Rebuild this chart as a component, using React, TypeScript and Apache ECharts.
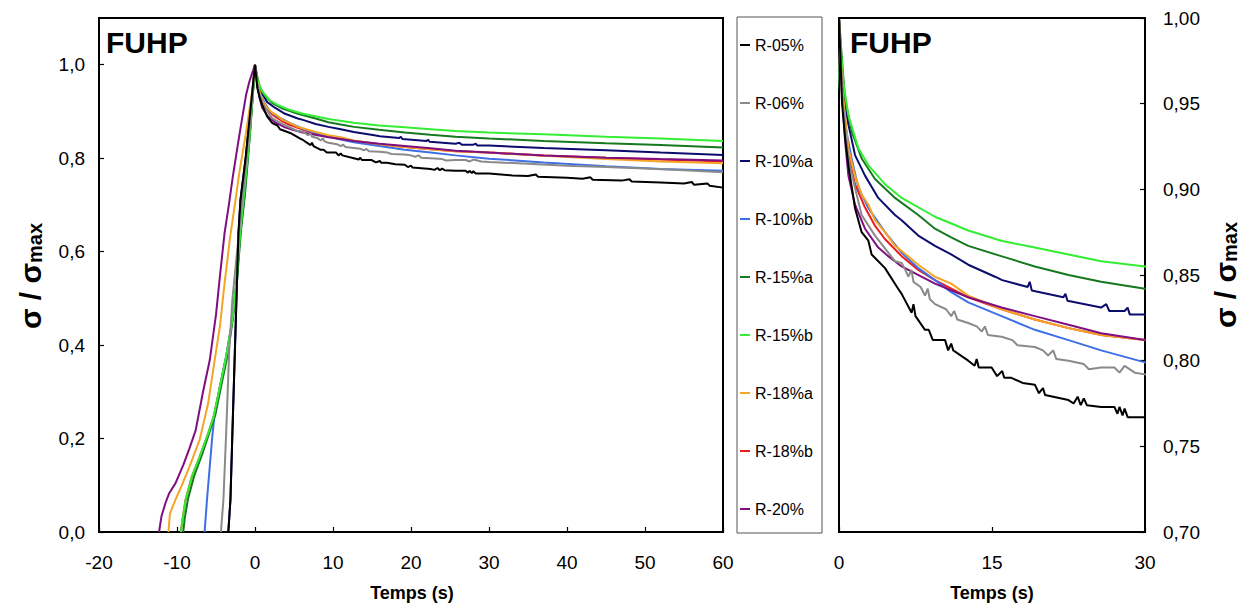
import React, { useEffect, useRef } from 'react';
import * as echarts from 'echarts';

// ---- Data (time in s, normalised stress sigma/sigma_max) ----
const seriesNames = ['R-05%', 'R-06%', 'R-10%a', 'R-10%b', 'R-15%a', 'R-15%b', 'R-18%a', 'R-18%b', 'R-20%'];
const seriesColors = ['#000000', '#8a8a8a', '#0c0c6e', '#3d6fe6', '#16791f', '#33ee33', '#f5a524', '#ee1c1c', '#7f0f80'];
// drawing order (later = on top)
const drawOrder = ['R-10%a', 'R-18%b', 'R-10%b', 'R-15%a', 'R-15%b', 'R-18%a', 'R-20%', 'R-06%', 'R-05%'];

const leftXRange = [-20, 60, 10];
const leftYRange = [0, 1.1, 0.2];
const rightXRange = [0, 30, 15];
const rightYRange = [0.7, 1.0, 0.05];

const r05 = [
  [-3.42, 0], [-3.15, 0.069], [-2.9, 0.211], [-2.64, 0.354], [-2.38, 0.497], [-2.12, 0.64], [-1.86, 0.711], [-1.2, 0.8], [-0.6, 0.9], [0, 1],
  [0.3, 0.95], [0.6, 0.93], [0.92, 0.914], [1.57, 0.889], [2.22, 0.875], [2.88, 0.87], [3.2, 0.862], [4.51, 0.854], [5.8, 0.842], [6.14, 0.839],
  [7.12, 0.828], [7.3, 0.833], [7.5, 0.826], [8.43, 0.818], [8.8, 0.818], [9.2, 0.812], [10.4, 0.812], [10.7, 0.806], [11, 0.81], [11.2, 0.806],
  [12.67, 0.8], [13.3, 0.797], [13.5, 0.801], [13.7, 0.796], [14.96, 0.796], [15.5, 0.791], [16, 0.794], [16.2, 0.79], [16.9, 0.79], [18, 0.787],
  [19.2, 0.786], [19.6, 0.781], [20, 0.784], [20.2, 0.78], [22.5, 0.777], [23, 0.775], [23.4, 0.779], [23.7, 0.774], [24, 0.778], [24.3, 0.774],
  [25.7, 0.773], [27, 0.773], [27.3, 0.769], [27.5, 0.773], [27.8, 0.768], [28, 0.772], [28.3, 0.767], [30, 0.767], [33, 0.763], [35, 0.762],
  [36, 0.765], [36.3, 0.76], [40, 0.758], [42, 0.756], [43, 0.759], [43.3, 0.754], [47, 0.752], [48, 0.755], [48.3, 0.75], [52, 0.748],
  [55, 0.746], [56, 0.749], [56.3, 0.743], [58, 0.746], [58.3, 0.741], [60, 0.737],
];
const r06 = [
  [-4.37, 0], [-4.05, 0.069], [-3.7, 0.211], [-3.3, 0.39], [-2.9, 0.497], [-2.3, 0.6], [-1.8, 0.68], [-1.2, 0.78], [-0.6, 0.88], [0, 1],
  [0.3, 0.955], [0.92, 0.918], [1.57, 0.901], [2.22, 0.885], [3.53, 0.873], [4.83, 0.863], [5.5, 0.858], [6.14, 0.857], [6.5, 0.853], [6.8, 0.849],
  [7.1, 0.853], [7.3, 0.846], [8.0, 0.843], [8.43, 0.838], [8.7, 0.842], [8.9, 0.836], [9.41, 0.833], [10.5, 0.83], [11, 0.826], [11.3, 0.829],
  [11.6, 0.824], [12.67, 0.822], [13.5, 0.82], [14, 0.817], [14.3, 0.82], [14.6, 0.815], [15.94, 0.814], [17, 0.812], [17.5, 0.809], [19.2, 0.808],
  [20, 0.806], [20.5, 0.803], [21, 0.806], [21.3, 0.801], [22.5, 0.8], [24, 0.798], [24.5, 0.795], [25.7, 0.796], [27, 0.796], [27.5, 0.793],
  [28, 0.797], [29, 0.793], [30, 0.792], [35, 0.788], [40, 0.784], [45, 0.781], [50, 0.778], [55, 0.774], [60, 0.77],
];
const r10a = [
  [-3.42, 0], [-3.15, 0.069], [-2.9, 0.211], [-2.64, 0.354], [-2.38, 0.497], [-2.12, 0.64], [-1.86, 0.711], [-1.2, 0.8], [-0.6, 0.9], [0, 1],
  [0.3, 0.965], [0.59, 0.95], [0.92, 0.938], [1.57, 0.92], [2.55, 0.908], [3.85, 0.895], [5.49, 0.885], [6.14, 0.882], [7.77, 0.873], [9.41, 0.867],
  [11, 0.862], [12.67, 0.856], [15.3, 0.849], [16, 0.847], [18.5, 0.843], [18.7, 0.846], [18.9, 0.841], [22, 0.837], [22.2, 0.839], [22.4, 0.835],
  [25.7, 0.831], [26.2, 0.833], [26.5, 0.829], [28, 0.829], [28.3, 0.831], [28.5, 0.827], [30, 0.827], [37, 0.822], [45, 0.817], [52, 0.812], [60, 0.807],
];
const r10b = [
  [-6.46, 0], [-6.15, 0.07], [-5.8, 0.14], [-5.5, 0.2], [-5.2, 0.25], [-4.45, 0.315], [-3.65, 0.38], [-2.85, 0.46], [-2.35, 0.54], [-1.85, 0.645], [-1.35, 0.72], [-0.68, 0.85], [0, 1],
  [0.3, 0.96], [0.59, 0.938], [1.24, 0.918], [1.9, 0.901], [2.88, 0.889], [4.51, 0.875], [6.14, 0.863], [7.77, 0.854], [9.41, 0.847], [11, 0.84],
  [12.67, 0.834], [15.94, 0.826], [19.2, 0.818], [22.5, 0.812], [25.7, 0.806], [30, 0.799], [37, 0.791], [45, 0.783], [52, 0.777], [60, 0.773],
];
const r15a = [
  [-9.2, 0], [-9.0, 0.03], [-8.6, 0.07], [-7.8, 0.12], [-6.8, 0.165], [-5.8, 0.215], [-5.1, 0.25], [-4.3, 0.315], [-3.5, 0.38], [-2.8, 0.46], [-2.3, 0.54], [-1.8, 0.645], [-1.3, 0.72], [-0.65, 0.85], [0, 1],
  [0.3, 0.975], [0.59, 0.953], [1.24, 0.934], [2.22, 0.918], [3.53, 0.906], [5.49, 0.895], [7.77, 0.885], [9.41, 0.877], [11, 0.872], [12.67, 0.867],
  [15.9, 0.861], [19.2, 0.855], [22.5, 0.85], [25.7, 0.846], [30, 0.842], [37, 0.837], [45, 0.832], [52, 0.828], [60, 0.823],
];
const r15b = [
  [-9.5, 0], [-9.3, 0.026], [-8.9, 0.069], [-8.1, 0.118], [-7.1, 0.161], [-6.0, 0.211], [-5.3, 0.247], [-4.5, 0.311], [-3.7, 0.375], [-2.9, 0.454], [-2.4, 0.533], [-1.9, 0.64], [-1.36, 0.73], [-0.7, 0.845], [0, 1],
  [0.1, 0.988], [0.42, 0.963], [0.92, 0.943], [1.9, 0.924], [2.88, 0.914], [4.51, 0.903], [6.14, 0.895], [9.41, 0.884], [12.67, 0.876], [15.9, 0.87],
  [19.2, 0.866], [22.5, 0.862], [25.7, 0.858], [30, 0.855], [37, 0.851], [45, 0.846], [52, 0.842], [60, 0.837],
];
const r18a = [
  [-11.1, 0], [-10.9, 0.04], [-10.2, 0.069], [-9.45, 0.097], [-8.4, 0.14], [-7.1, 0.197], [-6.0, 0.276], [-5.3, 0.354], [-4.5, 0.44], [-3.95, 0.525], [-3.2, 0.63], [-2.5, 0.71], [-2.0, 0.77], [-1.1, 0.86], [-0.3, 0.95], [0, 1],
  [0.3, 0.96], [0.92, 0.924], [1.57, 0.908], [2.22, 0.897], [2.88, 0.891], [3.53, 0.882], [4.51, 0.875], [5.49, 0.867], [6.14, 0.864], [7.77, 0.856],
  [9.41, 0.849], [11, 0.845], [12.67, 0.838], [15.94, 0.83], [19.2, 0.824], [22.5, 0.819], [25.7, 0.815], [30, 0.812], [37, 0.805], [45, 0.798], [52, 0.793], [60, 0.789],
];
const r18b = [
  [-9.5, 0], [-9.3, 0.026], [-8.9, 0.069], [-8.1, 0.118], [-7.1, 0.161], [-6.0, 0.211], [-5.3, 0.247], [-4.5, 0.311], [-3.7, 0.375], [-2.9, 0.454], [-2.4, 0.533], [-1.9, 0.64], [-1.36, 0.73], [-0.7, 0.845], [0, 1],
  [0.3, 0.96], [0.92, 0.92], [1.57, 0.903], [2.5, 0.89], [3.5, 0.879], [4.5, 0.871], [6.14, 0.861], [7.77, 0.853], [9.41, 0.847], [12.67, 0.837],
  [15.94, 0.83], [19.2, 0.824], [22.5, 0.819], [25.7, 0.815], [30, 0.812], [37, 0.806], [45, 0.801], [52, 0.797], [60, 0.793],
];
const r20 = [
  [-12.3, 0], [-12.0, 0.033], [-11.5, 0.061], [-11.0, 0.083], [-10.2, 0.104], [-9.2, 0.143], [-8.4, 0.179], [-7.6, 0.218], [-6.7, 0.297], [-5.8, 0.368],
  [-5.0, 0.465], [-4.5, 0.547], [-3.9, 0.64], [-3.35, 0.7], [-2.85, 0.76], [-2.0, 0.85], [-1.14, 0.936], [-0.72, 0.964], [0, 1],
  [0.3, 0.955], [0.6, 0.928], [0.92, 0.908], [1.57, 0.891], [2.55, 0.877], [3.85, 0.866], [4.83, 0.861], [6.14, 0.855], [9.41, 0.845], [12.67, 0.837],
  [15.94, 0.831], [19.2, 0.826], [22.5, 0.821], [25.7, 0.816], [30, 0.812], [37, 0.806], [45, 0.801], [52, 0.798], [60, 0.795],
];
const seriesData: Record<string, number[][]> = {
  'R-05%': r05, 'R-06%': r06, 'R-10%a': r10a, 'R-10%b': r10b, 'R-15%a': r15a,
  'R-15%b': r15b, 'R-18%a': r18a, 'R-18%b': r18b, 'R-20%': r20,
};

const FONT = 'Arial, "Liberation Sans", sans-serif';

export default function App() {
  const ref = useRef<HTMLDivElement>(null);
  useEffect(() => {
    if (!ref.current) return;
    const chart = echarts.init(ref.current, null, { renderer: 'svg' });
    const colorOf = (n: string) => seriesColors[seriesNames.indexOf(n)];
    const commaFmt = (d: number) => (v: number) => v.toFixed(d).replace('.', ',');
    const axisLineStyle = { onZero: false, lineStyle: { color: '#000', width: 2 } };
    const tickStyle = { inside: true, length: 5, lineStyle: { color: '#000', width: 1.2 } };
    const labelStyle = { color: '#000', fontSize: 19, fontFamily: FONT };

    const series: any[] = [];
    [0, 1].forEach((idx) => {
      drawOrder.forEach((name) => {
        series.push({
          type: 'line',
          name,
          xAxisIndex: idx,
          yAxisIndex: idx,
          data: seriesData[name],
          showSymbol: false,
          symbol: 'none',
          clip: true,
          lineStyle: { color: colorOf(name), width: 2 },
          itemStyle: { color: colorOf(name) },
          emphasis: { disabled: true },
        });
      });
    });

    const option: any = {
      animation: false,
      backgroundColor: '#fff',
      grid: [
        { left: 99, top: 18, width: 624, height: 514, show: true, borderColor: '#000', borderWidth: 2, backgroundColor: 'transparent' },
        { left: 839, top: 18, width: 306, height: 514, show: true, borderColor: '#000', borderWidth: 2, backgroundColor: 'transparent' },
      ],
      xAxis: [
        {
          type: 'value', gridIndex: 0, min: leftXRange[0], max: leftXRange[1], interval: leftXRange[2],
          axisLine: axisLineStyle, axisTick: tickStyle, splitLine: { show: false },
          axisLabel: { ...labelStyle, margin: 21 },
        },
        {
          type: 'value', gridIndex: 1, min: rightXRange[0], max: rightXRange[1], interval: rightXRange[2],
          axisLine: axisLineStyle, axisTick: tickStyle, splitLine: { show: false },
          axisLabel: { ...labelStyle, margin: 21 },
        },
      ],
      yAxis: [
        {
          type: 'value', gridIndex: 0, min: leftYRange[0], max: leftYRange[1], interval: leftYRange[2],
          axisLine: axisLineStyle, axisTick: tickStyle, splitLine: { show: false },
          axisLabel: { ...labelStyle, margin: 14, formatter: commaFmt(1), showMaxLabel: false },
        },
        {
          type: 'value', gridIndex: 1, position: 'right', min: rightYRange[0], max: rightYRange[1], interval: rightYRange[2],
          axisLine: axisLineStyle, axisTick: tickStyle, splitLine: { show: false },
          axisLabel: { ...labelStyle, margin: 18, formatter: commaFmt(2) },
        },
      ],
      legend: {
        data: seriesNames,
        orient: 'vertical',
        left: 740,
        top: 37,
        padding: 0,
        itemGap: 42,
        itemWidth: 10,
        itemHeight: 2,
        icon: 'rect',
        selectedMode: false,
        textStyle: { color: '#000', fontSize: 16, fontFamily: FONT, lineHeight: 16 },
      },
      graphic: [
        { type: 'rect', shape: { x: 737, y: 17, width: 85, height: 516 }, style: { fill: 'none', stroke: '#555', lineWidth: 1 }, silent: true },
        { type: 'text', x: 106, y: 42, style: { text: 'FUHP', fill: '#000', font: `bold 30px ${FONT}`, verticalAlign: 'middle' }, silent: true },
        { type: 'text', x: 850, y: 42, style: { text: 'FUHP', fill: '#000', font: `bold 30px ${FONT}`, verticalAlign: 'middle' }, silent: true },
        {
          type: 'text', x: 30, y: 276, rotation: Math.PI / 2, silent: true,
          style: {
            text: '{a|σ / σ}{b|max}', align: 'center', verticalAlign: 'middle', fill: '#000',
            rich: {
              a: { fontSize: 30, fontWeight: 'bold', fontFamily: FONT, fill: '#000', verticalAlign: 'bottom' },
              b: { fontSize: 20, fontWeight: 'bold', fontFamily: FONT, fill: '#000', verticalAlign: 'bottom' },
            },
          },
        },
        {
          type: 'text', x: 1225, y: 275, rotation: Math.PI / 2, silent: true,
          style: {
            text: '{a|σ / σ}{b|max}', align: 'center', verticalAlign: 'middle', fill: '#000',
            rich: {
              a: { fontSize: 30, fontWeight: 'bold', fontFamily: FONT, fill: '#000', verticalAlign: 'bottom' },
              b: { fontSize: 20, fontWeight: 'bold', fontFamily: FONT, fill: '#000', verticalAlign: 'bottom' },
            },
          },
        },
        { type: 'text', x: 412, y: 593, style: { text: 'Temps (s)', fill: '#000', font: `bold 18px ${FONT}`, align: 'center', verticalAlign: 'middle' }, silent: true },
        { type: 'text', x: 992, y: 593, style: { text: 'Temps (s)', fill: '#000', font: `bold 18px ${FONT}`, align: 'center', verticalAlign: 'middle' }, silent: true },
      ],
      series,
    };
    chart.setOption(option);
    return () => chart.dispose();
  }, []);
  return (
    <div
      ref={ref}
      style={{ position: 'fixed', left: 0, top: 0, width: 1242, height: 609, background: '#fff' }}
    />
  );
}
